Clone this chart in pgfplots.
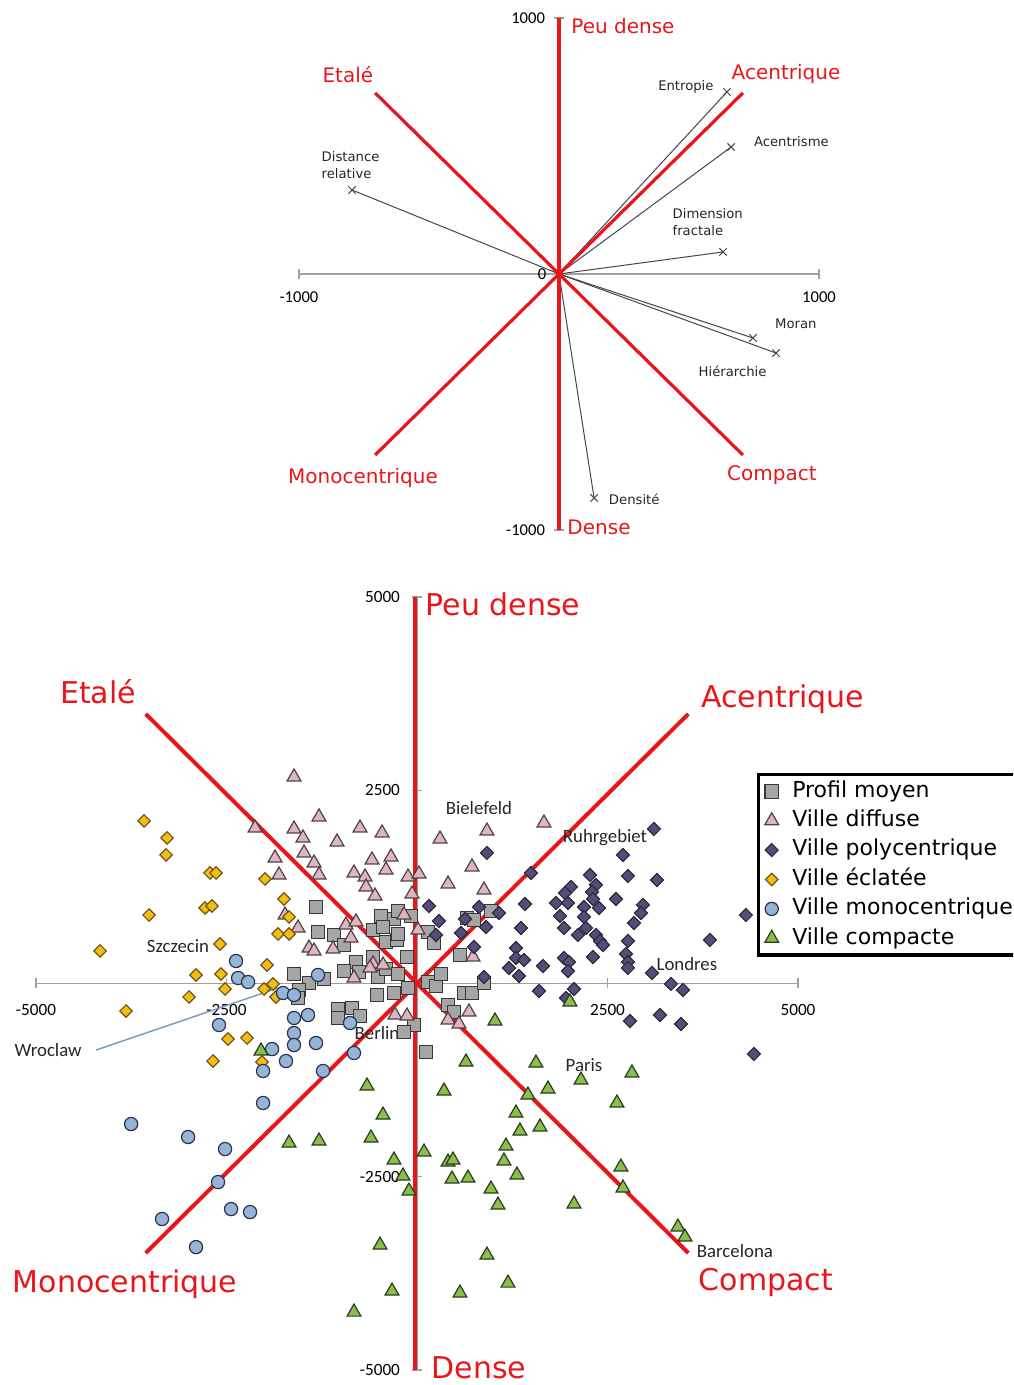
\documentclass[border=0pt]{standalone}
\usepackage{pgfplots}
\pgfplotsset{compat=1.18}
\usepackage{fontspec}
\setmainfont{DejaVu Sans}
\newfontfamily\carlito{Carlito}
\definecolor{axred}{RGB}{232,22,26}
\definecolor{vecgray}{RGB}{70,70,70}
\definecolor{axgray}{RGB}{160,160,160}
\definecolor{sqfill}{RGB}{165,165,165}
\definecolor{sqdraw}{RGB}{55,55,55}
\definecolor{pkfill}{RGB}{221,183,191}
\definecolor{pkdraw}{RGB}{80,65,70}
\definecolor{pufill}{RGB}{84,78,118}
\definecolor{pudraw}{RGB}{45,42,65}
\definecolor{yefill}{RGB}{242,190,20}
\definecolor{yedraw}{RGB}{110,85,20}
\definecolor{blfill}{RGB}{150,180,214}
\definecolor{bldraw}{RGB}{40,50,80}
\definecolor{grfill}{RGB}{138,190,78}
\definecolor{grdraw}{RGB}{40,60,30}
\definecolor{wline}{RGB}{120,150,190}
\begin{document}
\begin{tikzpicture}
\path[use as bounding box] (0,0) rectangle (506.5pt,692.5pt);
\clip (0,0) rectangle (506.5pt,692.5pt);

%================ TOP: variables =================
\begin{axis}[
  at={(149.5pt,427.5pt)}, anchor=south west, scale only axis,
  width=260pt, height=256pt,
  xmin=-1000, xmax=1000, ymin=-1000, ymax=1000,
  axis lines=center, axis line style={axgray, line width=0.6pt, -},
  xtick={-1000,1000}, xticklabels={-1000,1000},
  ytick={-1000,1000}, yticklabels={-1000,1000},
  tick style={axgray, line width=0.6pt}, major tick length=5pt,
  tick label style={font=\carlito\fontsize{8.3}{9}\selectfont, text=black},
  xticklabel style={yshift=-3pt}, yticklabel style={xshift=-1pt},
  clip=false]
\addplot[vecgray, line width=0.5pt, mark=x, mark size=2.6pt, mark indices={2}] coordinates {(0,0) (646,711)};
\addplot[vecgray, line width=0.5pt, mark=x, mark size=2.6pt, mark indices={2}] coordinates {(0,0) (662,496)};
\addplot[vecgray, line width=0.5pt, mark=x, mark size=2.6pt, mark indices={2}] coordinates {(0,0) (631,86)};
\addplot[vecgray, line width=0.5pt, mark=x, mark size=2.6pt, mark indices={2}] coordinates {(0,0) (-796,328)};
\addplot[vecgray, line width=0.5pt, mark=x, mark size=2.6pt, mark indices={2}] coordinates {(0,0) (746,-250)};
\addplot[vecgray, line width=0.5pt, mark=x, mark size=2.6pt, mark indices={2}] coordinates {(0,0) (835,-309)};
\addplot[vecgray, line width=0.5pt, mark=x, mark size=2.6pt, mark indices={2}] coordinates {(0,0) (135,-875)};
\addplot[axred, line width=1.6pt] coordinates {(0,1000) (0,-1000)};
\addplot[axred, line width=1.6pt] coordinates {(-707,707) (707,-707)};
\addplot[axred, line width=1.6pt] coordinates {(707,707) (-707,-707)};
\node[anchor=east, font=\carlito\fontsize{8.3}{9}\selectfont, inner sep=1pt] at (axis cs:-40,0) {0};
% variable labels
\begin{scope}[font=\fontsize{6.6}{8.2}\selectfont, text=black!85]
\node at (axis cs:488,730) {Entropie};
\node[anchor=west] at (axis cs:723,516) {Acentrisme};
\node[anchor=west, align=left] at (axis cs:410,203) {Dimension\\fractale};
\node[anchor=west, align=left] at (axis cs:-940,426) {Distance\\relative};
\node[anchor=west] at (axis cs:804,-195) {Moran};
\node[anchor=west] at (axis cs:510,-379) {Hiérarchie};
\node[anchor=west] at (axis cs:165,-879) {Densité};
\end{scope}
\begin{scope}[font=\fontsize{10}{12}\selectfont, text=axred]
\node at (axis cs:246,969) {Peu dense};
\node at (axis cs:-812,777) {Etalé};
\node at (axis cs:873,781) {Acentrique};
\node at (axis cs:-754,-797) {Monocentrique};
\node at (axis cs:819,-785) {Compact};
\node at (axis cs:154,-988) {Dense};
\end{scope}
\end{axis}

%================ BOTTOM: cities =================
\begin{axis}[
  at={(18pt,7.5pt)}, anchor=south west, scale only axis,
  width=381pt, height=386.5pt,
  xmin=-5000, xmax=5000, ymin=-5000, ymax=5000,
  axis lines=center, axis line style={axgray, line width=0.6pt, -},
  xtick={-5000,-2500,2500,5000}, xticklabels={-5000,-2500,2500,5000},
  ytick={-5000,-2500,2500,5000}, yticklabels={-5000,-2500,2500,5000},
  tick style={axgray, line width=0.6pt}, major tick length=5pt,
  tick label style={font=\carlito\fontsize{8.6}{9.5}\selectfont, text=black},
  xticklabel style={yshift=-4.5pt}, yticklabel style={xshift=-2.5pt},
  clip=false,
  legend style={at={(0.9462,0.7723)}, anchor=north west, draw=black, line width=1.6pt,
    font=\fontsize{11}{13}\selectfont, inner xsep=2pt, inner ysep=1pt,
    nodes={text height=8.3pt, text depth=2.6pt, inner ysep=1.9pt},
    cells={anchor=west}},
  legend image code/.code={\draw[mark repeat=2, mark phase=2, #1] plot coordinates {(0cm,0cm) (0.15cm,0cm) (0.3cm,0cm)}; \path (0cm,0cm) (0.43cm,0cm);}
]
% Profil moyen
\addplot[only marks, mark=square*, mark size=3.4pt, draw=sqdraw, fill=sqfill, line width=0.6pt] table {
x y
-1325 990
-1299 666
-1089 628
-958 498
-1614 123
-1417 6
-1220 58
-1548 -84
-1561 -188
-800 278
-958 162
-761 149
-577 343
-512 84
-472 873
-302 835
-249 938
-79 873
-577 692
-446 731
-407 537
-262 563
-249 641
-131 343
-407 188
-249 123
-302 -123
-118 -58
-525 -149
-1036 -330
-853 -317
-748 -421
-1036 -446
-39 -537
-171 -628
118 -886
144 666
223 524
564 369
144 19
249 -32
315 123
617 -123
722 -123
879 6
407 -278
485 -369
656 848
748 822
971 938
};
\addlegendentry{Profil moyen}
% red axes (drawn over the profile squares)
\addplot[axred, line width=2pt, forget plot] coordinates {(-30,5000) (-30,-5000)};
\addplot[axred, line width=2pt, forget plot] coordinates {(-3560,3487) (3560,-3487)};
\addplot[axred, line width=2pt, forget plot] coordinates {(3560,3487) (-3560,-3487)};
% Ville diffuse
\addplot[only marks, mark=triangle*, mark size=4pt, draw=pkdraw, fill=pkfill, line width=0.6pt] table {
x y
-1614 2672
-1286 2155
-2125 2012
-1614 1999
-1496 1883
-1050 1831
-748 2012
-459 1947
-1863 1624
-1483 1689
-1351 1559
-590 1598
-341 1637
-1811 1404
-1286 1404
-827 1430
-682 1378
-407 1469
-669 1249
-551 1132
-1732 886
-1561 718
-932 757
-800 796
-866 589
-1417 459
-1351 421
-1102 446
-577 252
-827 71
-66 1158
407 1288
879 1210
-171 886
13 692
-617 201
-446 239
-289 -408
-131 -421
407 -472
682 -369
551 -524
735 343
302 1870
918 1973
1666 2077
722 1508
-118 1378
26 1417
};
\addlegendentry{Ville diffuse}
% Ville polycentrique
\addplot[only marks, mark=square*, mark size=2.3pt, mark options={rotate=45}, draw=pudraw, fill=pufill, line width=0.6pt] table {
x y
3109 1999
918 1689
2703 1663
1496 1430
2270 1404
2768 1391
3149 1339
2020 1249
2348 1275
1942 1171
2296 1184
157 1003
813 990
1076 912
1417 1029
1824 1042
1981 1042
2309 1093
2388 977
2611 1093
2965 1016
2939 912
2191 990
1876 873
2191 861
289 809
630 835
905 731
1364 718
1929 718
2217 718
2847 783
4316 886
577 653
249 628
2112 628
2348 628
2401 550
2440 498
2768 550
3844 563
748 472
1299 459
1299 330
1404 304
1929 330
1994 278
2309 343
2742 382
2768 278
1653 226
1207 201
1338 97
2768 201
3083 136
879 84
1981 162
3332 -6
3490 -84
1601 -97
2060 -71
1955 -188
2795 -485
3188 -408
3464 -524
4421 -912
};
\addlegendentry{Ville polycentrique}
% Ville eclatee
\addplot[only marks, mark=square*, mark size=2.2pt, mark options={rotate=45}, draw=yedraw, fill=yefill, line width=0.6pt] table {
x y
-3582 2103
-3280 1883
-3293 1663
-2716 1430
-2637 1430
-1994 1352
-3516 886
-2781 977
-2690 1003
-1745 1093
-1679 861
-1824 641
-1679 641
-4159 421
-2585 511
-1968 239
-2900 110
-2572 123
-1889 -6
-2007 -71
-2519 -71
-2991 -175
-1850 -175
-2480 -718
-2230 -705
-2676 -1003
-2034 -1016
-3818 -356
};
\addlegendentry{Ville éclatée}
% Ville monocentrique
\addplot[only marks, mark=*, mark size=3.3pt, draw=bldraw, fill=blfill, line width=0.6pt] table {
x y
-2598 -537
-1614 -446
-1430 -408
-1614 -641
-1902 -848
-1614 -796
-1325 -770
-879 -511
-827 -899
-1719 -1003
-2020 -1132
-1233 -1132
-2020 -1546
-3752 -1818
-3004 -1986
-2519 -2142
-2611 -2569
-2440 -2918
-2191 -2957
-3346 -3047
-2900 -3410
-2375 291
-2348 71
-2217 19
-1758 -123
-1614 -149
-1299 110
};
\addlegendentry{Ville monocentrique}
% Ville compacte
\addplot[only marks, mark=triangle*, mark size=4pt, draw=grdraw, fill=grfill, line width=0.6pt] table {
x y
1023 -485
643 -1016
1561 -1029
-656 -1326
354 -1391
1456 -1443
1719 -1365
2152 -1249
2821 -1158
2624 -1546
-446 -1702
1299 -1676
1351 -1909
1614 -1857
-604 -1999
92 -2180
1168 -2103
-302 -2284
407 -2310
472 -2284
1141 -2297
-184 -2491
459 -2530
669 -2517
1312 -2478
-105 -2685
971 -2659
1063 -2866
2060 -2853
2676 -2375
2703 -2646
3424 -3151
3516 -3280
-485 -3384
918 -3513
-328 -3979
564 -4005
1194 -3876
-827 -4251
2007 -239
-2047 -873
-1679 -2064
-1286 -2038
};
\addlegendentry{Ville compacte}
% Wroclaw pointer
\addplot[wline, line width=0.7pt, forget plot] coordinates {(-4212,-861) (-1830,-60)};
% city labels
\begin{scope}[font=\carlito\fontsize{9.4}{11}\selectfont, text=black!85]
\node at (axis cs:813,2271) {Bielefeld};
\node at (axis cs:2467,1883) {Ruhrgebiet};
\node at (axis cs:-3136,485) {Szczecin};
\node at (axis cs:3542,252) {Londres};
\node at (axis cs:-525,-641) {Berlin};
\node at (axis cs:2191,-1055) {Paris};
\node at (axis cs:4172,-3462) {Barcelona};
\node at (axis cs:-4841,-861) {Wroclaw};
\end{scope}
% red axis labels
\begin{scope}[font=\fontsize{15}{18}\selectfont, text=axred]
\node at (axis cs:1128,4911) {Peu dense};
\node at (axis cs:-4185,3772) {Etalé};
\node at (axis cs:4802,3681) {Acentrique};
\node at (axis cs:-3831,-3888) {Monocentrique};
\node at (axis cs:4579,-3863) {Compact};
\node at (axis cs:813,-4975) {Dense};
\end{scope}
\end{axis}
\end{tikzpicture}
\end{document}
